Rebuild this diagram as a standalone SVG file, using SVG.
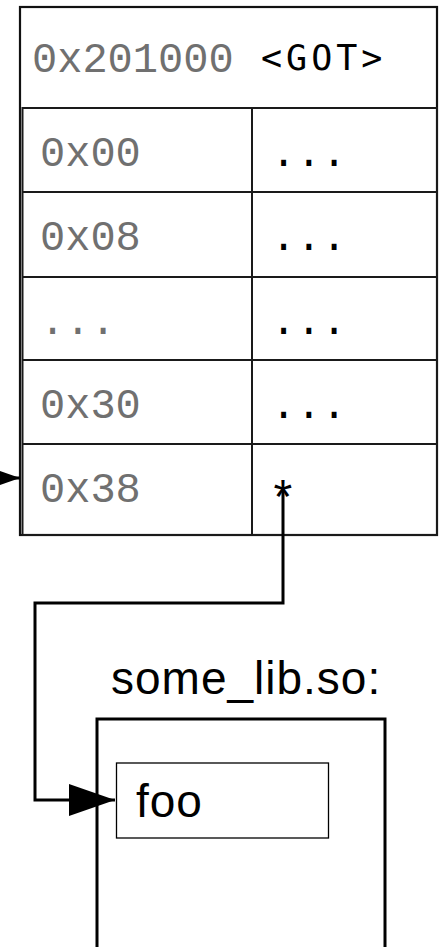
<svg xmlns="http://www.w3.org/2000/svg" width="440" height="947" viewBox="0 0 440 947">
  <style>
    .frame { fill: none; stroke: #111; stroke-width: 2.2; }
    .cell { fill: none; stroke: #1a1a1a; stroke-width: 2; }
    .addr { font-family: "Liberation Mono", "Courier New", monospace; font-size: 42px; fill: #707070; }
    .val { font-family: "Liberation Mono", "Courier New", monospace; font-size: 42px; fill: #000; }
    .tag { font-family: "DejaVu Sans Mono", monospace; font-size: 35px; letter-spacing: 4px; fill: #000; }
    .label { font-family: "Liberation Sans", Arial, sans-serif; font-size: 46px; letter-spacing: 1px; fill: #000; }
    .wire { fill: none; stroke: #000; stroke-width: 3; }
  </style>
  <defs>
    <marker id="arrow" markerUnits="userSpaceOnUse" markerWidth="46" markerHeight="32" refX="46" refY="16" orient="auto">
      <path d="M0,0 L46,16 L0,32 Z" fill="#000"/>
    </marker>
  </defs>

  <rect x="0" y="0" width="440" height="947" fill="#fff"/>

  <!-- global offset table -->
  <g id="got">
    <rect class="frame" x="20" y="7" width="417" height="528"/>
    <text class="addr" x="32" y="72">0x201000</text>
    <text class="tag" x="261" y="70">&lt;GOT&gt;</text>
    <!-- entry grid -->
    <rect class="cell" x="22.5" y="108" width="414.5" height="427"/>
    <line class="cell" x1="252" y1="108" x2="252" y2="535"/>
    <line class="cell" x1="22.5" y1="192" x2="437" y2="192"/>
    <line class="cell" x1="22.5" y1="277" x2="437" y2="277"/>
    <line class="cell" x1="22.5" y1="360" x2="437" y2="360"/>
    <line class="cell" x1="22.5" y1="444" x2="437" y2="444"/>
  </g>

  <g id="entry-00">
    <text class="addr" x="40" y="166">0x00</text>
    <text class="val" x="271" y="166">...</text>
  </g>
  <g id="entry-08">
    <text class="addr" x="40" y="250">0x08</text>
    <text class="val" x="271" y="250">...</text>
  </g>
  <g id="entry-gap">
    <text class="addr" x="40" y="334">...</text>
    <text class="val" x="271" y="334">...</text>
  </g>
  <g id="entry-30">
    <text class="addr" x="40" y="418">0x30</text>
    <text class="val" x="271" y="418">...</text>
  </g>
  <g id="entry-38">
    <text class="addr" x="40" y="502">0x38</text>
    <text class="val" x="283" y="515" text-anchor="middle" style="font-size:48px">*</text>
  </g>

  <!-- shared library -->
  <g id="some-lib">
    <text class="label" x="111" y="694">some_lib.so:</text>
    <rect x="97" y="719" width="288" height="260" fill="none" stroke="#000" stroke-width="3"/>
  </g>
  <g id="foo">
    <rect x="116.5" y="763" width="212" height="75" fill="none" stroke="#000" stroke-width="1.3"/>
    <text class="label" x="136" y="817">foo</text>
  </g>

  <g id="connectors">
    <line class="wire" x1="-40" y1="478" x2="20" y2="478" marker-end="url(#arrow)"/>
    <path class="wire" d="M283,490 V603 H35 V800 H115" marker-end="url(#arrow)"/>
  </g>
</svg>
